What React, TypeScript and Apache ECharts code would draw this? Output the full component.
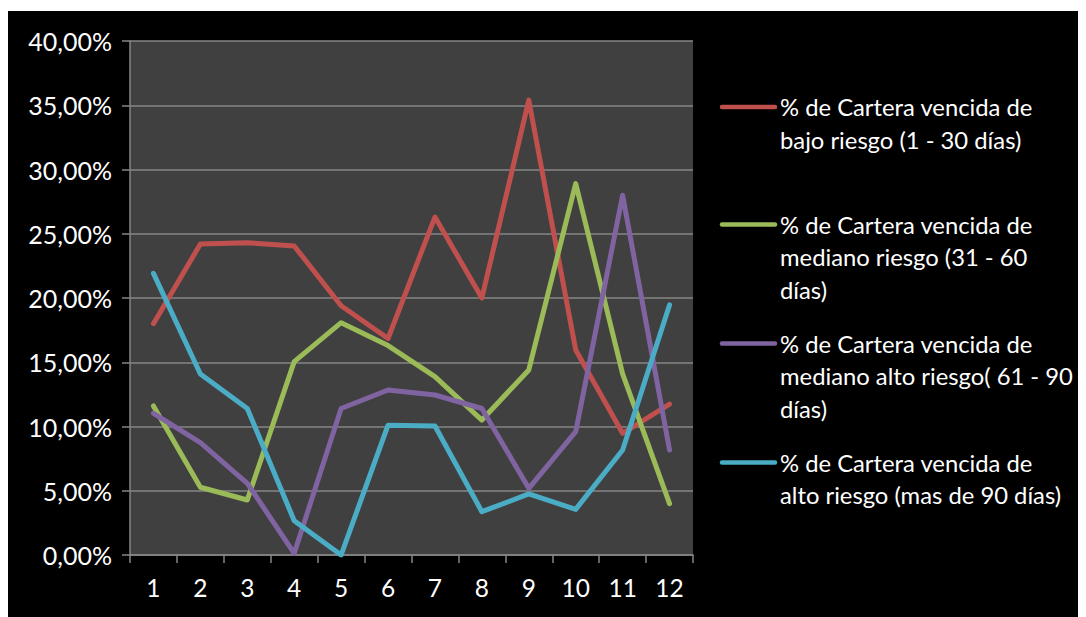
import React, { useEffect, useRef } from "react";
import * as echarts from "echarts";

const categories = ["1", "2", "3", "4", "5", "6", "7", "8", "9", "10", "11", "12"];
const bajoRiesgo = [18.0, 24.2, 24.3, 24.05, 19.4, 16.85, 26.3, 20.0, 35.4, 15.95, 9.47, 11.75];
const medianoRiesgo = [11.6, 5.27, 4.28, 15.05, 18.08, 16.3, 13.88, 10.5, 14.4, 28.9, 14.1, 4.0];
const medianoAltoRiesgo = [11.03, 8.74, 5.58, 0.13, 11.4, 12.84, 12.45, 11.4, 5.19, 9.6, 28.0, 8.17];
const altoRiesgo = [21.92, 14.09, 11.4, 2.67, 0.0, 10.1, 10.04, 3.37, 4.75, 3.55, 8.17, 19.46];
const seriesNames = [
  "% de Cartera vencida de\nbajo riesgo (1 - 30 días)",
  "% de Cartera vencida de\nmediano riesgo (31 - 60\ndías)",
  "% de Cartera vencida de\nmediano alto riesgo( 61 - 90\ndías)",
  "% de Cartera vencida de\nalto riesgo (mas de 90 días)",
];
const seriesColors = ["#C0504D", "#9BBB59", "#8064A2", "#4BACC6"];

const FONT = "Lato";

export default function App() {
  const ref = useRef<HTMLDivElement>(null);
  useEffect(() => {
    if (!ref.current) return;
    const chart = echarts.init(ref.current, undefined, { renderer: "svg" });
    const allData = [bajoRiesgo, medianoRiesgo, medianoAltoRiesgo, altoRiesgo];
    const legendY = [96, 213.5, 332.5, 451.5];
    const graphic: any[] = [];
    seriesNames.forEach((name, i) => {
      graphic.push({
        type: "line",
        shape: { x1: 714, y1: legendY[i], x2: 767, y2: legendY[i] },
        style: { stroke: seriesColors[i], lineWidth: 4.5, lineCap: "round" },
      });
      graphic.push({
        type: "text",
        x: 772,
        y: legendY[i] - 16.25,
        style: {
          text: name,
          fill: "#ffffff",
          font: `23.8px ${FONT}`,
          lineHeight: 32.5,
          verticalAlign: "top",
          align: "left",
        },
      });
    });
    chart.setOption({
      animation: false,
      backgroundColor: "#000000",
      grid: {
        left: 122,
        top: 30,
        width: 563,
        height: 514,
        show: true,
        backgroundColor: "#404040",
        borderWidth: 0,
      },
      xAxis: {
        type: "category",
        data: categories,
        boundaryGap: true,
        axisLine: { show: true, lineStyle: { color: "#868686", width: 1.5 } },
        axisTick: { show: true, length: 8, lineStyle: { color: "#868686", width: 1.5 } },
        axisLabel: { color: "#ffffff", fontFamily: FONT, fontSize: 24.5, margin: 20 },
      },
      yAxis: {
        type: "value",
        min: 0,
        max: 40,
        interval: 5,
        axisLine: { show: true, lineStyle: { color: "#868686", width: 1.5 } },
        axisTick: { show: true, length: 8, lineStyle: { color: "#868686", width: 1.5 } },
        splitLine: { show: true, lineStyle: { color: "#868686", width: 1.5 } },
        axisLabel: {
          color: "#ffffff",
          fontFamily: FONT,
          fontSize: 25,
          margin: 18,
          formatter: (v: number) => v.toFixed(2).replace(".", ",") + "%",
        },
      },
      series: allData.map((d, i) => ({
        name: seriesNames[i],
        type: "line",
        data: d,
        symbol: "none",
        lineStyle: { color: seriesColors[i], width: 5, cap: "round", join: "round" },
        itemStyle: { color: seriesColors[i] },
      })),
      graphic,
    });
    return () => chart.dispose();
  }, []);
  return (
    <div style={{ paddingTop: 3, background: "#ffffff" }}>
      <div ref={ref} style={{ width: 1078, height: 606 }} />
    </div>
  );
}
